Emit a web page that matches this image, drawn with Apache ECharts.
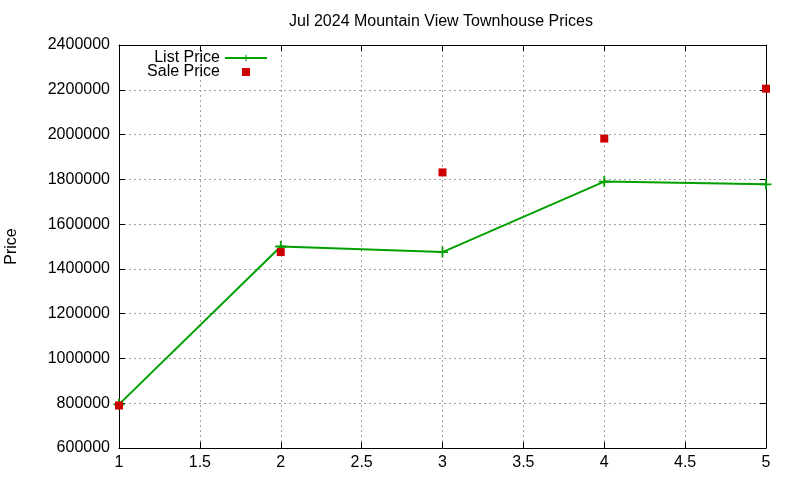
<!DOCTYPE html>
<html><head><meta charset="utf-8">
<script src="https://cdn.jsdelivr.net/npm/echarts@6/dist/echarts.min.js"></script>
<style>html,body{margin:0;padding:0;background:#fff}#c{width:800px;height:480px}</style>
</head><body><div id="c"></div>
<script>
const xValues = [1, 2, 3, 4, 5];
const listPrice = [795000, 1500000, 1475000, 1790000, 1778000];
const salePrice = [790000, 1475000, 1831000, 1982000, 2205000];
const titleText = 'Jul 2024 Mountain View Townhouse Prices';
const yName = 'Price';

const FONT = 'Liberation Sans, Arial, sans-serif';
const GREEN = '#00a000';
const RED = '#cc0000';
const plus = 'path://M-0.8,-5 L0.8,-5 L0.8,-0.8 L5,-0.8 L5,0.8 L0.8,0.8 L0.8,5 L-0.8,5 L-0.8,0.8 L-5,0.8 L-5,-0.8 L-0.8,-0.8 Z';
const square = 'path://M0,0 L1,0 L1,1 L0,1 Z';

const chart = echarts.init(document.getElementById('c'), null, {renderer: 'canvas'});
const axisCommon = {
  type: 'value',
  axisLine: {show: true, onZero: false, lineStyle: {color: '#000', width: 1}},
  axisTick: {show: true, inside: true, length: 6, lineStyle: {color: '#000'}},
  splitLine: {show: false},
  axisLabel: {show: false}
};
chart.setOption({
  animation: false,
  title: {text: titleText, left: 436, top: 9, textAlign: 'center',
    textStyle: {fontFamily: FONT, fontSize: 16, fontWeight: 'normal', color: '#000'}},
  grid: {left: 119, right: 34, top: 45, bottom: 32, show: false, containLabel: false, outerBoundsMode: 'none'},
  legend: {
    right: 527, top: 45, orient: 'vertical', align: 'right', itemGap: -2,
    itemWidth: 42, itemHeight: 8, symbolKeepAspect: true,
    textStyle: {fontFamily: FONT, fontSize: 16, color: '#000'},
    data: [
      {name: 'List Price'},
      {name: 'Sale Price', icon: square}
    ]
  },
  xAxis: [
    Object.assign({}, axisCommon, {
      min: 1, max: 5, interval: 0.5, position: 'bottom',
      axisLabel: {show: true, fontFamily: FONT, fontSize: 16, color: '#000', margin: 7},
      splitLine: {show: true, lineStyle: {color: '#a0a0a0', type: [2, 3], width: 1}}
    }),
    Object.assign({}, axisCommon, {min: 1, max: 5, interval: 0.5, position: 'top'})
  ],
  yAxis: [
    Object.assign({}, axisCommon, {
      min: 600000, max: 2400000, interval: 200000, position: 'left',
      name: yName, nameLocation: 'middle', nameGap: 99, nameRotate: 90,
      nameTextStyle: {fontFamily: FONT, fontSize: 16, color: '#000'},
      axisLabel: {show: true, fontFamily: FONT, fontSize: 16, color: '#000', margin: 9,
        formatter: v => String(v)},
      splitLine: {show: true, lineStyle: {color: '#a0a0a0', type: [2, 3], width: 1}}
    }),
    Object.assign({}, axisCommon, {min: 600000, max: 2400000, interval: 200000, position: 'right'})
  ],
  series: [
    {
      name: 'List Price', type: 'line', xAxisIndex: 0, yAxisIndex: 0,
      data: xValues.map((x, i) => [x, listPrice[i]]),
      symbol: plus, symbolSize: 11, showSymbol: true,
      lineStyle: {color: GREEN, width: 2},
      itemStyle: {color: GREEN, opacity: 1},
      z: 2
    },
    {
      name: 'Sale Price', type: 'scatter', xAxisIndex: 0, yAxisIndex: 0,
      data: xValues.map((x, i) => [x, salePrice[i]]),
      symbol: 'rect', symbolSize: 8,
      itemStyle: {color: RED, opacity: 1},
      z: 3
    }
  ]
});
</script></body></html>
